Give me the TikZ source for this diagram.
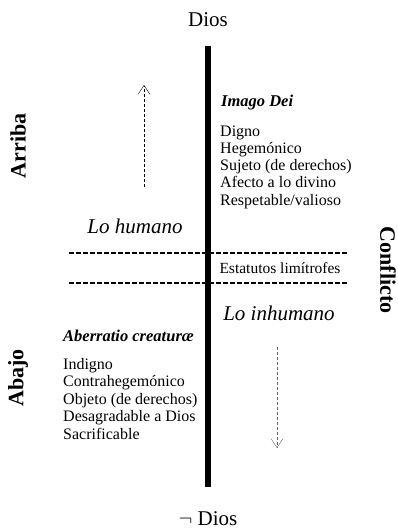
\documentclass[tikz,border=0pt]{standalone}
\usepackage{fontspec}
\setmainfont{Liberation Serif}
\usetikzlibrary{arrows.meta}

\begin{document}
\begin{tikzpicture}[x=1pt,y=-1pt,every node/.style={inner sep=0pt},
  pole/.style={font=\fontsize{21}{24}\selectfont,anchor=base},
  side/.style={font=\fontsize{22}{24}\selectfont\bfseries,anchor=center},
  head/.style={font=\fontsize{16.5}{18}\selectfont\bfseries\itshape,anchor=base west},
  zone/.style={font=\fontsize{21}{24}\selectfont\itshape,anchor=base},
  item/.style={font=\fontsize{16}{18}\selectfont,anchor=base west},
  limit/.style={line width=1.3pt,dash pattern=on 4.5pt off 2.5pt},
  tendency/.style={dash pattern=on 3pt off 2pt,-{Straight Barb[length=9pt,width=12pt]}}]
\useasboundingbox (0,0) rectangle (398,529);
\node [pole] (dios) at (208,27) {Dios};
\node [pole] (nodios) at (208,525) {$\neg$ Dios};
\coordinate (axtop) at (208,46);
\coordinate (axbot) at (208,487);
\draw [line width=5.5pt] (axtop) -- (axbot);
% upper half
\node [head] (imago) at (221,107) {Imago Dei};
\foreach \t [count=\i] in {Digno,Hegemónico,Sujeto (de derechos),Afecto a lo divino,Respetable/valioso}
  \node [item] (up\i) at (220,120+17*\i) {\t};
\node [side,rotate=90] (arriba) at (18,146) {Arriba};
\node [zone] (humano) at (135,233) {Lo humano};
\coordinate (upa) at (144,187);
\coordinate (upb) at (144,85);
\draw [tendency] (upa) -- (upb);
% limit zone
\coordinate (la) at (69,253);
\coordinate (lb) at (347,253);
\coordinate (lc) at (69,283);
\coordinate (ld) at (347,283);
\draw [limit] (la) -- (lb);
\draw [limit] (lc) -- (ld);
\node [font=\fontsize{15.5}{18}\selectfont,anchor=base] (limitrofes) at (280,273) {Estatutos limítrofes};
\node [side,rotate=-90] (conflicto) at (388,270) {Conflicto};
% lower half
\node [zone] (inhumano) at (279,320) {Lo inhumano};
\node [head] (aberratio) at (63,341) {Aberratio creaturæ};
\foreach \t [count=\i] in {Indigno,Contrahegemónico,Objeto (de derechos),Desagradable a Dios,Sacrificable}
  \node [item] (lo\i) at (63,351.5+17.5*\i) {\t};
\node [side,rotate=90] (abajo) at (18,378) {Abajo};
\coordinate (dna) at (277,347);
\coordinate (dnb) at (277,448);
\draw [tendency,black!60] (dna) -- (dnb);
\end{tikzpicture}
\end{document}
